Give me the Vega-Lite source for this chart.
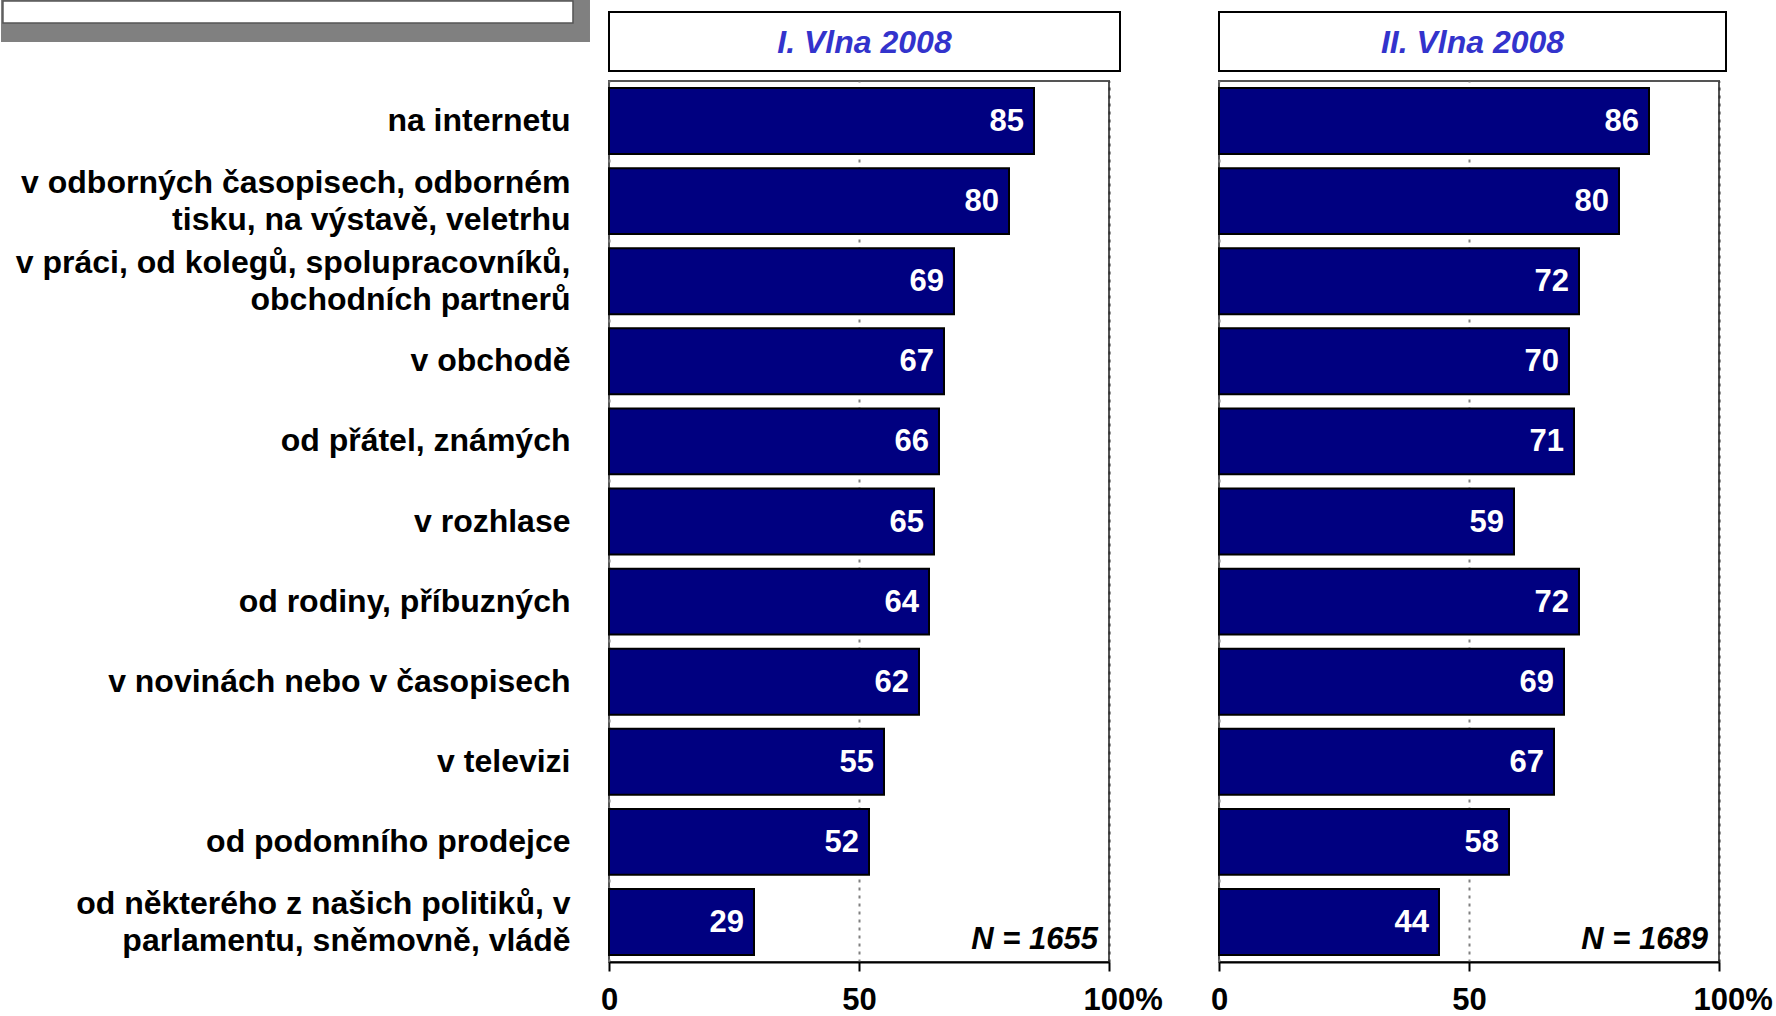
{
  "$schema": "https://vega.github.io/schema/vega-lite/v6.json",
  "padding": {"top": -2, "left": 0, "right": 0, "bottom": 0},
  "background": "white",
  "config": {"font": "Liberation Sans", "view": {"stroke": null}},
  "datasets": {
    "w1": [
      {"cat": "na internetu", "value": 85},
      {"cat": "v odborných časopisech, odborném\ntisku, na výstavě, veletrhu", "value": 80},
      {"cat": "v práci, od kolegů, spolupracovníků,\nobchodních partnerů", "value": 69},
      {"cat": "v obchodě", "value": 67},
      {"cat": "od přátel, známých", "value": 66},
      {"cat": "v rozhlase", "value": 65},
      {"cat": "od rodiny, příbuzných", "value": 64},
      {"cat": "v novinách nebo v časopisech", "value": 62},
      {"cat": "v televizi", "value": 55},
      {"cat": "od podomního prodejce", "value": 52},
      {"cat": "od některého z našich politiků, v\nparlamentu, sněmovně, vládě", "value": 29}
    ],
    "w2": [
      {"cat": "na internetu", "value": 86},
      {"cat": "v odborných časopisech, odborném\ntisku, na výstavě, veletrhu", "value": 80},
      {"cat": "v práci, od kolegů, spolupracovníků,\nobchodních partnerů", "value": 72},
      {"cat": "v obchodě", "value": 70},
      {"cat": "od přátel, známých", "value": 71},
      {"cat": "v rozhlase", "value": 59},
      {"cat": "od rodiny, příbuzných", "value": 72},
      {"cat": "v novinách nebo v časopisech", "value": 69},
      {"cat": "v televizi", "value": 67},
      {"cat": "od podomního prodejce", "value": 58},
      {"cat": "od některého z našich politiků, v\nparlamentu, sněmovně, vládě", "value": 44}
    ],
    "h1": [{"wave": "I. Vlna 2008", "n": "N = 1655"}],
    "h2": [{"wave": "II. Vlna 2008", "n": "N = 1689"}]
  },
  "hconcat": [
    {
      "spacing": 8,
      "vconcat": [
        {
          "width": 511,
          "height": 59,
          "view": {"stroke": "black", "strokeWidth": 2},
          "data": {"name": "h1"},
          "layer": [
            {
              "mark": {"type": "rect", "fill": "#808080", "clip": false},
              "encoding": {
                "x": {"datum": -118.98, "type": "quantitative", "scale": {"domain": [0, 100], "nice": false, "zero": false}, "axis": null},
                "x2": {"datum": -3.72},
                "y": {"datum": 120.34, "type": "quantitative", "scale": {"domain": [0, 100], "nice": false, "zero": false}, "axis": null},
                "y2": {"datum": 49.15}
              }
            },
            {
              "mark": {"type": "rect", "fill": "white", "stroke": "#555555", "strokeWidth": 1.5, "clip": false},
              "encoding": {
                "x": {"datum": -118.6, "type": "quantitative"},
                "x2": {"datum": -7.05},
                "y": {"datum": 118.6, "type": "quantitative"},
                "y2": {"datum": 81.36}
              }
            },
            {
              "mark": {"type": "text", "fontSize": 32, "fontWeight": "bold", "fontStyle": "italic", "color": "#3333CC", "baseline": "middle", "align": "center", "dy": 1},
              "encoding": {"text": {"field": "wave"}}
            }
          ]
        },
        {
          "width": 500,
          "height": 881,
          "view": {"stroke": "#555555", "strokeWidth": 2},
          "layer": [
            {
              "data": {"name": "w1"},
              "mark": {"type": "bar", "fill": "#000080", "stroke": "black", "strokeWidth": 2},
              "encoding": {
                "y": {"field": "cat", "type": "nominal", "sort": null, "scale": {"paddingInner": 0.177, "paddingOuter": 0.0885},
                  "axis": {"title": null, "ticks": false, "domain": false, "labelFontSize": 32, "labelFontWeight": "bold", "labelColor": "black", "labelPadding": 39, "labelLimit": 1000, "labelExpr": "split(datum.label, '\\n')", "labelLineHeight": 37, "labelAlign": "right", "labelBaseline": "middle",
                    "labelOffset": {"condition": {"test": "indexof(datum.value, '\\n') >= 0", "value": -18}, "value": 0}}},
                "x": {"field": "value", "type": "quantitative", "scale": {"domain": [0, 100], "nice": false},
                  "axis": {"title": null, "values": [0, 50, 100], "labelFontSize": 31, "labelFontWeight": "bold", "labelColor": "black", "domainColor": "black", "domainWidth": 2, "tickColor": "black", "tickWidth": 2, "tickSize": 9, "labelPadding": 14, "grid": true, "gridWidth": 2, "gridDash": [3, 5], "labelFlush": false, "labelOverlap": false,
                    "gridColor": {"condition": {"test": "datum.value == 100", "value": "#333333"}, "value": "#808080"},
                    "labelExpr": "datum.value == 100 ? '100%' : datum.label",
                    "labelAlign": {"condition": {"test": "datum.value == 100", "value": "left"}, "value": "center"},
                    "labelOffset": {"condition": {"test": "datum.value == 100", "value": -26}, "value": 0}}}
              }
            },
            {
              "data": {"name": "w1"},
              "mark": {"type": "text", "align": "right", "baseline": "middle", "dx": -10, "dy": 1, "color": "white", "fontSize": 31, "fontWeight": "bold"},
              "encoding": {
                "y": {"field": "cat", "type": "nominal", "sort": null},
                "x": {"field": "value", "type": "quantitative"},
                "text": {"field": "value"}
              }
            },
            {
              "data": {"name": "h1"},
              "mark": {"type": "text", "align": "right", "baseline": "alphabetic", "dx": -11, "dy": 27, "color": "black", "fontSize": 31, "fontWeight": "bold", "fontStyle": "italic"},
              "encoding": {
                "y": {"datum": "od některého z našich politiků, v\nparlamentu, sněmovně, vládě", "type": "nominal"},
                "x": {"datum": 100, "type": "quantitative"},
                "text": {"field": "n"}
              }
            }
          ]
        }
      ]
    },
    {
      "spacing": 8,
      "vconcat": [
        {
          "width": 507,
          "height": 59,
          "view": {"stroke": "black", "strokeWidth": 2},
          "data": {"name": "h2"},
          "layer": [
            {
              "mark": {"type": "rect", "fill": "white", "opacity": 0, "clip": false},
              "encoding": {
                "x": {"datum": 10, "type": "quantitative", "scale": {"domain": [0, 100], "nice": false, "zero": false}, "axis": null},
                "x2": {"datum": 20},
                "y": {"datum": 120.34, "type": "quantitative", "scale": {"domain": [0, 100], "nice": false, "zero": false}, "axis": null},
                "y2": {"datum": 100}
              }
            },
            {
              "mark": {"type": "text", "fontSize": 32, "fontWeight": "bold", "fontStyle": "italic", "color": "#3333CC", "baseline": "middle", "align": "center", "dy": 1},
              "encoding": {"text": {"field": "wave"}}
            }
          ]
        },
        {
          "width": 500,
          "height": 881,
          "view": {"stroke": "#555555", "strokeWidth": 2},
          "layer": [
            {
              "data": {"name": "w2"},
              "mark": {"type": "bar", "fill": "#000080", "stroke": "black", "strokeWidth": 2},
              "encoding": {
                "y": {"field": "cat", "type": "nominal", "sort": null, "scale": {"paddingInner": 0.177, "paddingOuter": 0.0885}, "axis": null},
                "x": {"field": "value", "type": "quantitative", "scale": {"domain": [0, 100], "nice": false},
                  "axis": {"title": null, "values": [0, 50, 100], "labelFontSize": 31, "labelFontWeight": "bold", "labelColor": "black", "domainColor": "black", "domainWidth": 2, "tickColor": "black", "tickWidth": 2, "tickSize": 9, "labelPadding": 14, "grid": true, "gridWidth": 2, "gridDash": [3, 5], "labelFlush": false, "labelOverlap": false,
                    "gridColor": {"condition": {"test": "datum.value == 100", "value": "#333333"}, "value": "#808080"},
                    "labelExpr": "datum.value == 100 ? '100%' : datum.label",
                    "labelAlign": {"condition": {"test": "datum.value == 100", "value": "left"}, "value": "center"},
                    "labelOffset": {"condition": {"test": "datum.value == 100", "value": -26}, "value": 0}}}
              }
            },
            {
              "data": {"name": "w2"},
              "mark": {"type": "text", "align": "right", "baseline": "middle", "dx": -10, "dy": 1, "color": "white", "fontSize": 31, "fontWeight": "bold"},
              "encoding": {
                "y": {"field": "cat", "type": "nominal", "sort": null},
                "x": {"field": "value", "type": "quantitative"},
                "text": {"field": "value"}
              }
            },
            {
              "data": {"name": "h2"},
              "mark": {"type": "text", "align": "right", "baseline": "alphabetic", "dx": -11, "dy": 27, "color": "black", "fontSize": 31, "fontWeight": "bold", "fontStyle": "italic"},
              "encoding": {
                "y": {"datum": "od některého z našich politiků, v\nparlamentu, sněmovně, vládě", "type": "nominal"},
                "x": {"datum": 100, "type": "quantitative"},
                "text": {"field": "n"}
              }
            }
          ]
        }
      ]
    }
  ],
  "spacing": 45
}
